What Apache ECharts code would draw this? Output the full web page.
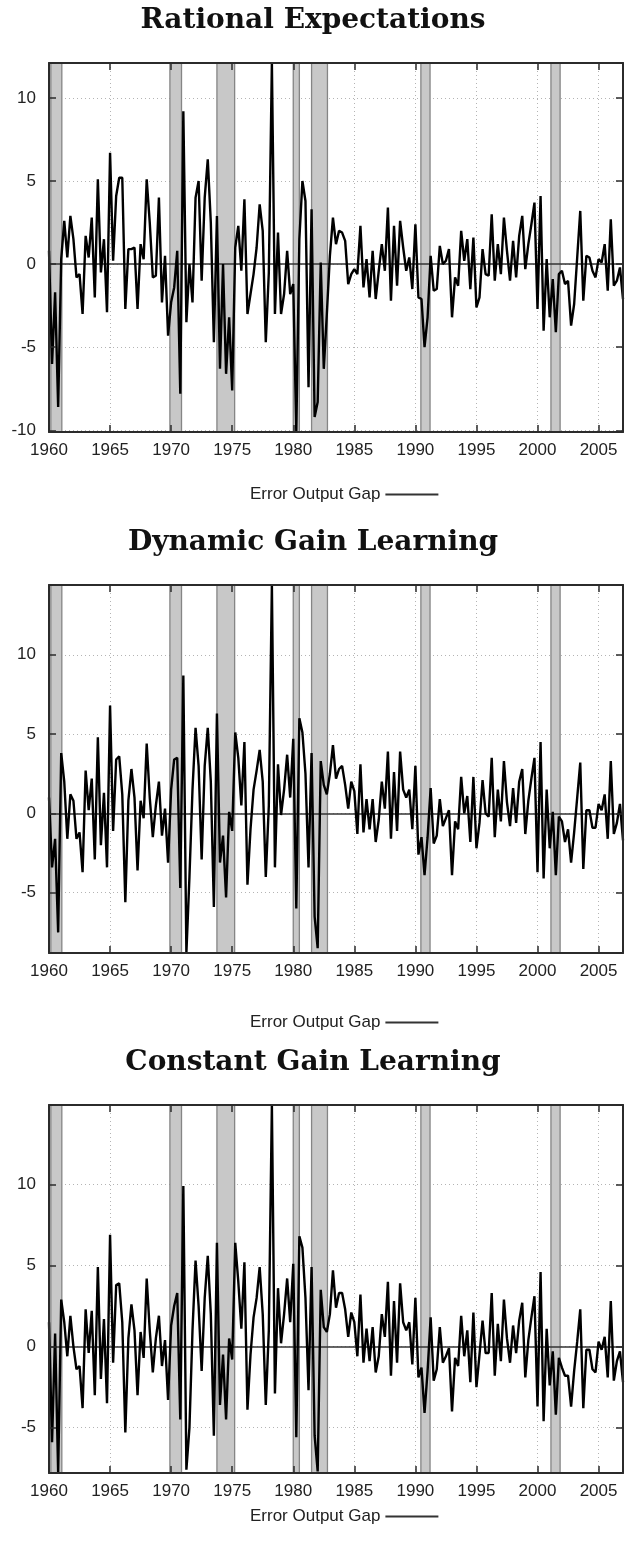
<!DOCTYPE html>
<html>
<head>
<meta charset="utf-8">
<title>Error Output Gap</title>
<script src="https://cdn.jsdelivr.net/npm/echarts@6/dist/echarts.min.js"></script>
<style>
  html, body { margin: 0; padding: 0; background: #fff; }
  #chart { width: 626px; height: 1555px; }
</style>
</head>
<body>
<div id="chart"></div>
<script>
// 季度数据 1960Q1 - 2007Q1
const rationalGap = [
  0.8, -6.0, -1.7, -8.6, 0.3, 2.6, 0.4, 2.9, 1.5, -0.8,
  -0.6, -3.0, 1.7, 0.4, 2.8, -2.0, 5.1, -0.5, 1.5, -2.9,
  6.7, 0.2, 4.1, 5.2, 5.2, -2.7, 0.9, 0.9, 1.0, -2.7,
  1.2, 0.3, 5.1, 2.5, -0.8, -0.7, 4.0, -2.3, 0.5, -4.3,
  -2.3, -1.4, 0.8, -7.8, 9.2, -3.5, 0.0, -2.3, 4.0, 5.0,
  -1.0, 4.0, 6.3, 2.5, -4.7, 2.9, -6.3, 0.0, -6.6, -3.2,
  -7.6, 1.0, 2.3, -0.4, 3.9, -3.0, -1.8, -0.6, 1.0, 3.6,
  2.0, -4.7, -0.5, 12.1, -3.0, 1.9, -3.0, -1.8, 0.8, -1.8,
  -1.2, -10.1, 1.5, 5.0, 3.8, -7.4, 3.3, -9.2, -8.3, 0.1,
  -6.3, -3.0, 0.5, 2.8, 1.2, 2.0, 1.9, 1.4, -1.2, -0.6,
  -0.3, -0.6, 2.3, -1.4, 0.3, -2.0, 0.8, -2.1, -0.4, 1.2,
  -0.4, 3.4, -2.2, 2.3, -1.3, 2.6, 1.0, -0.4, 0.4, -1.5,
  2.4, -2.0, -2.1, -5.0, -3.2, 0.5, -1.6, -1.5, 1.1, 0.0,
  0.2, 0.9, -3.2, -0.8, -1.3, 2.0, 0.2, 1.5, -1.5, 1.6,
  -2.6, -2.0, 0.9, -0.6, -0.7, 3.0, -1.0, 1.2, -0.6, 2.8,
  0.8, -1.0, 1.4, -0.8, 1.7, 2.9, -0.3, 1.2, 2.4, 3.7,
  -2.7, 4.1, -4.0, 0.3, -3.2, -0.9, -4.1, -0.6, -0.4, -1.2,
  -1.0, -3.7, -2.4, 0.4, 3.2, -2.2, 0.5, 0.4, -0.4, -0.8,
  0.3, 0.1, 1.2, -1.6, 2.7, -1.3, -1.0, -0.2, -2.1,
]

const dynamicGap = [
  1.0, -3.4, -1.6, -7.5, 3.8, 2.0, -1.6, 1.2, 0.8, -1.6,
  -1.2, -3.7, 2.7, 0.2, 2.2, -2.9, 4.8, -2.0, 1.3, -3.4,
  6.8, -1.1, 3.4, 3.6, 1.2, -5.6, 0.8, 2.8, 1.0, -3.6,
  0.8, -0.3, 4.4, 1.0, -1.5, 0.5, 2.0, -1.4, 0.3, -3.1,
  1.5, 3.4, 3.5, -4.7, 8.7, -8.8, -4.0, 1.5, 5.4, 3.0,
  -2.9, 3.0, 5.4, 2.0, -5.9, 6.3, -3.1, -1.4, -5.3, 0.1,
  -1.1, 5.1, 3.5, 0.5, 4.5, -4.5, -1.0, 1.5, 2.7, 4.0,
  2.0, -4.0, 0.5, 14.4, -3.4, 3.1, -0.1, 1.5, 3.7, 1.0,
  4.7, -6.0, 6.0, 5.1, 2.5, -3.4, 3.8, -6.5, -8.5, 3.3,
  1.8, 1.2, 2.5, 4.3, 2.2, 2.8, 3.0, 1.8, 0.3, 2.0,
  1.4, -1.3, 3.1, -1.2, 0.9, -1.0, 0.9, -1.8, -0.4, 2.0,
  0.3, 3.9, -1.6, 2.6, -1.1, 3.9, 1.5, 1.0, 1.5, -1.0,
  3.0, -2.6, -1.5, -3.9, -1.5, 1.6, -1.9, -1.4, 0.9, -0.8,
  -0.3, 0.2, -3.9, -0.5, -1.0, 2.3, 0.0, 1.1, -1.8, 2.3,
  -2.2, -0.6, 2.1, 0.0, -0.2, 3.5, -1.5, 1.5, -0.5, 3.3,
  0.7, -0.8, 1.6, -0.6, 2.0, 2.8, -1.3, 0.8, 2.2, 3.5,
  -3.7, 4.5, -4.1, 1.5, -2.2, 0.1, -3.9, -0.2, -0.5, -1.8,
  -1.0, -3.1, -1.2, 1.0, 3.2, -3.5, 0.2, 0.2, -0.9, -0.9,
  0.6, 0.2, 1.2, -1.6, 3.3, -1.3, -0.6, 0.6, -1.7,
]

const constantGap = [
  1.5, -5.9, 0.8, -7.8, 2.9, 1.5, -0.6, 1.9, 0.0, -1.4,
  -1.2, -3.8, 2.3, -0.4, 2.2, -3.0, 4.9, -2.0, 1.7, -3.5,
  6.9, -1.0, 3.8, 3.9, 1.5, -5.3, 0.5, 2.6, 1.0, -3.0,
  0.9, -0.7, 4.2, 1.0, -1.6, 0.5, 1.9, -1.2, 0.4, -3.3,
  1.3, 2.5, 3.3, -4.5, 9.9, -7.6, -5.0, 1.0, 5.3, 2.5,
  -1.5, 3.0, 5.6, 2.0, -5.5, 6.4, -3.6, -0.5, -4.5, 0.5,
  -0.8, 6.4, 4.0, 1.1, 5.2, -3.9, -0.5, 1.8, 3.0, 4.9,
  2.0, -3.6, 1.0, 14.9, -2.9, 3.6, 0.2, 2.0, 4.2, 1.5,
  5.1, -5.6, 6.8, 6.1, 3.0, -2.7, 4.9, -5.5, -7.7, 3.5,
  1.2, 0.9, 2.0, 4.7, 2.4, 3.3, 3.3, 2.3, 0.6, 2.1,
  1.5, -0.6, 3.2, -1.0, 1.1, -0.9, 1.2, -1.6, -0.6, 2.0,
  0.6, 4.0, -1.8, 2.8, -1.0, 3.9, 1.5, 1.0, 1.5, -1.1,
  3.0, -1.9, -1.3, -4.1, -1.5, 1.8, -2.1, -1.4, 1.2, -1.0,
  -0.6, -0.1, -4.0, -0.7, -1.2, 1.9, -0.6, 1.0, -2.2, 2.1,
  -2.5, -0.5, 1.6, -0.4, -0.4, 3.3, -1.8, 1.4, -0.9, 2.9,
  0.5, -1.0, 1.3, -0.4, 1.6, 2.7, -1.9, 0.4, 1.8, 3.1,
  -3.7, 4.6, -4.6, 1.1, -2.4, -0.3, -4.2, -0.7, -1.3, -1.8,
  -1.8, -3.7, -1.5, 0.3, 2.3, -3.8, -0.2, -0.2, -1.4, -1.6,
  0.3, -0.2, 0.6, -1.9, 2.8, -2.1, -0.9, -0.3, -2.2,
]

// NBER 衰退区间
const recessions = [
  [1960.15, 1961.05],
  [1969.9, 1970.85],
  [1973.75, 1975.2],
  [1980.0, 1980.5],
  [1981.5, 1982.8],
  [1990.45, 1991.2],
  [2001.1, 2001.85],
]

const panelTitles = ['Rational Expectations', 'Dynamic Gain Learning', 'Constant Gain Learning']
const seriesName = 'Error Output Gap'
const startYear = 1960
const endYear = 2007

// 版面
const panels = [
  { values: rationalGap, top: 63, height: 369, legendTop: 481 },
  { values: dynamicGap, top: 585, height: 368, legendTop: 1009 },
  { values: constantGap, top: 1105, height: 368, legendTop: 1503 },
]

const sans = 'Liberation Sans, Arial, sans-serif'
const edge = { color: '#2b2b2b', width: 2 }
const tick = { inside: true, length: 7, lineStyle: { color: '#2b2b2b', width: 1.5 } }
const dotted = { show: true, lineStyle: { color: '#b4b4b4', width: 1, type: [1, 3] } }

const onlyFives = (v) => (Math.abs(v % 5) < 1e-6 ? String(Math.round(v)) : '')

let option = {
  animation: false,
  backgroundColor: '#fff',
  title: [],
  legend: [],
  grid: [],
  xAxis: [],
  yAxis: [],
  series: [],
}

panels.forEach((p, k) => {
  let lo = Math.min(...p.values),
    hi = Math.max(...p.values),
    xBase = { type: 'value', gridIndex: k, min: startYear, max: endYear, interval: 5 },
    yBase = { type: 'value', gridIndex: k, min: lo, max: hi, splitNumber: 5 }

  option.title.push({
    text: panelTitles[k],
    left: 'center',
    top: p.top - 56,
    padding: 0,
    textStyle: { fontFamily: 'DejaVu Serif', fontWeight: 'bold', fontSize: 28, color: '#111' },
  })

  option.grid.push({ left: 49, right: 1, top: p.top, height: p.height })

  // 底轴：刻度 + 标签；顶轴：镜像刻度；第三条只画网格
  option.xAxis.push(
    Object.assign({}, xBase, {
      position: 'bottom',
      z: 10,
      axisLine: { show: true, onZero: false, lineStyle: edge },
      axisTick: tick,
      axisLabel: { formatter: onlyFives, fontFamily: sans, fontSize: 17, color: '#222', margin: 10 },
      splitLine: { show: false },
    }),
    Object.assign({}, xBase, {
      position: 'top',
      z: 10,
      axisLine: { show: true, onZero: false, lineStyle: edge },
      axisTick: tick,
      axisLabel: { show: false },
      splitLine: { show: false },
    }),
    Object.assign({}, xBase, {
      position: 'top',
      z: 0,
      axisLine: { show: false },
      axisTick: { show: false },
      axisLabel: { show: false },
      splitLine: dotted,
    }),
  )

  option.yAxis.push(
    Object.assign({}, yBase, {
      position: 'left',
      z: 10,
      axisLine: { show: true, onZero: false, lineStyle: edge },
      axisTick: tick,
      axisLabel: { formatter: onlyFives, fontFamily: sans, fontSize: 17, color: '#222', margin: 13 },
      splitLine: { show: false },
    }),
    Object.assign({}, yBase, {
      position: 'right',
      z: 10,
      axisLine: { show: true, onZero: false, lineStyle: edge },
      axisTick: tick,
      axisLabel: { show: false },
      splitLine: { show: false },
    }),
    Object.assign({}, yBase, {
      position: 'right',
      z: 0,
      axisLine: { show: false },
      axisTick: { show: false },
      axisLabel: { show: false },
      splitLine: dotted,
    }),
  )

  option.series.push({
    name: seriesName,
    type: 'line',
    xAxisIndex: k * 3,
    yAxisIndex: k * 3,
    symbol: 'none',
    z: 5,
    lineStyle: { color: '#000', width: 2.4 },
    itemStyle: { color: '#000' },
    data: p.values.map((v, i) => [startYear + i / 4, v]),
    markArea: {
      silent: true,
      itemStyle: { color: '#c8c8c8', borderColor: '#858585', borderWidth: 1.3 },
      data: recessions.map(([a, b]) => [{ xAxis: a }, { xAxis: b }]),
    },
    markLine: {
      silent: true,
      symbol: 'none',
      label: { show: false },
      lineStyle: { color: '#333', width: 1.5, type: 'solid' },
      data: [{ yAxis: 0 }],
    },
  })

  option.legend.push({
    data: [{ name: seriesName, icon: 'rect' }],
    left: 245,
    top: p.legendTop,
    align: 'right',
    selectedMode: false,
    itemWidth: 53,
    itemHeight: 2,
    itemStyle: { color: '#333' },
    textStyle: { fontFamily: sans, fontSize: 17, color: '#222' },
  })
})

let chart = echarts.init(document.getElementById('chart'), null, { renderer: 'canvas' })
chart.setOption(option)
</script>
</body>
</html>
